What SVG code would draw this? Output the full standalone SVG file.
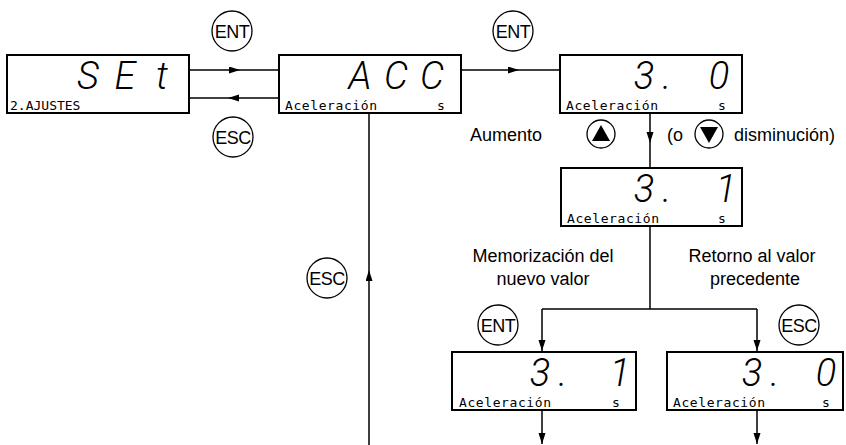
<svg xmlns="http://www.w3.org/2000/svg" width="846" height="445" viewBox="0 0 846 445">
<style>
.box{fill:#fff;stroke:#000;stroke-width:2}
.ln{fill:none;stroke:#000;stroke-width:1.5}
.btn{fill:#fff;stroke:#000;stroke-width:1.3}
.bt{font-family:"Liberation Sans",Arial,sans-serif;font-size:18px;letter-spacing:-0.5px;text-anchor:middle;fill:#000}
.lbl{font-family:"Liberation Sans",Arial,sans-serif;font-size:18px;fill:#000}
.seg{font-family:Roboto,"DejaVu Sans",sans-serif;font-style:italic;font-weight:300;font-size:38px;text-anchor:middle;fill:#000}
.sm{font-family:"DejaVu Sans Mono","Liberation Mono",monospace;font-size:13px;fill:#000}
</style>
<defs>
<marker id="ah" markerUnits="userSpaceOnUse" markerWidth="12" markerHeight="8" refX="11" refY="3.5" orient="auto">
<path d="M0,0 L11,3.5 L0,7 z" fill="#000"/>
</marker>
</defs>
<g id="connectors">
<path class="ln" d="M189,70 H240 H279" marker-mid="url(#ah)"/>
<path class="ln" d="M279,98 H228 H189" marker-mid="url(#ah)"/>
<path class="ln" d="M461,70 H519 H560" marker-mid="url(#ah)"/>
<path class="ln" d="M650,113 V143 V168" marker-mid="url(#ah)"/>
<path class="ln" d="M650,226 V309"/>
<path class="ln" d="M542,309 H757"/>
<path class="ln" d="M542,309 V351" marker-end="url(#ah)"/>
<path class="ln" d="M757,309 V351" marker-end="url(#ah)"/>
<path class="ln" d="M542,410 V444" marker-end="url(#ah)"/>
<path class="ln" d="M757,410 V444" marker-end="url(#ah)"/>
<path class="ln" d="M369,445 V270 V113" marker-mid="url(#ah)"/>
</g>
<g id="n-set">
<rect class="box" x="7" y="55" width="182" height="58"/>
<text class="seg" x="88" y="89">S</text>
<text class="seg" x="125" y="89">E</text>
<text class="seg" x="162" y="89">t</text>
<text class="sm" x="10" y="110">2.AJUSTES</text>
</g>
<g id="n-acc">
<rect class="box" x="279" y="55" width="182" height="58"/>
<text class="seg" x="360" y="89">A</text>
<text class="seg" x="396" y="89">C</text>
<text class="seg" x="432" y="89">C</text>
<text class="sm" x="285" y="110" textLength="92">Aceleración</text>
<text class="sm" x="437" y="110">s</text>
</g>
<g id="n-v30">
<rect class="box" x="560" y="55" width="182" height="58"/>
<text class="seg" x="644" y="89">3</text>
<text class="seg" x="667" y="89">.</text>
<text class="seg" x="719" y="89">0</text>
<text class="sm" x="566" y="110" textLength="92">Aceleración</text>
<text class="sm" x="718" y="110">s</text>
</g>
<g id="n-v31">
<rect class="box" x="561" y="168" width="181" height="58"/>
<text class="seg" x="644" y="202">3</text>
<text class="seg" x="667" y="202">.</text>
<text class="seg" x="726" y="202">1</text>
<text class="sm" x="567" y="223" textLength="92">Aceleración</text>
<text class="sm" x="718" y="223">s</text>
</g>
<g id="n-save">
<rect class="box" x="452" y="352" width="184" height="58"/>
<text class="seg" x="540" y="386">3</text>
<text class="seg" x="563" y="386">.</text>
<text class="seg" x="620" y="386">1</text>
<text class="sm" x="459" y="407" textLength="92">Aceleración</text>
<text class="sm" x="612" y="407">s</text>
</g>
<g id="n-back">
<rect class="box" x="667" y="352" width="176" height="58"/>
<text class="seg" x="752" y="386">3</text>
<text class="seg" x="775" y="386">.</text>
<text class="seg" x="826" y="386">0</text>
<text class="sm" x="673" y="407" textLength="92">Aceleración</text>
<text class="sm" x="822" y="407">s</text>
</g>
<g id="b-ent1"><circle class="btn" cx="232" cy="31" r="20"/><text class="bt" x="232" y="37.5">ENT</text></g>
<g id="b-esc1"><circle class="btn" cx="233" cy="137" r="20"/><text class="bt" x="233" y="143.5">ESC</text></g>
<g id="b-ent2"><circle class="btn" cx="513" cy="31" r="20"/><text class="bt" x="513" y="37.5">ENT</text></g>
<g id="b-esc2"><circle class="btn" cx="327" cy="278" r="20"/><text class="bt" x="327" y="284.5">ESC</text></g>
<g id="b-ent3"><circle class="btn" cx="498" cy="325" r="20"/><text class="bt" x="498" y="331.5">ENT</text></g>
<g id="b-esc3"><circle class="btn" cx="799" cy="325" r="20"/><text class="bt" x="799" y="331.5">ESC</text></g>
<g id="b-up"><circle class="btn" cx="601" cy="134" r="14" stroke-width="1.8"/><path d="M601,125 L592,141 L610,141 z" fill="#000"/></g>
<g id="b-down"><circle class="btn" cx="709" cy="134" r="14" stroke-width="1.8"/><path d="M700,127 L718,127 L709,143 z" fill="#000"/></g>
<g id="labels">
<text class="lbl" x="470" y="141">Aumento</text>
<text class="lbl" x="667" y="141">(o</text>
<text class="lbl" x="734" y="141">disminución)</text>
<text class="lbl" x="543" y="262" text-anchor="middle">Memorización del</text>
<text class="lbl" x="543" y="285" text-anchor="middle">nuevo valor</text>
<text class="lbl" x="752" y="262" text-anchor="middle">Retorno al valor</text>
<text class="lbl" x="755" y="285" text-anchor="middle">precedente</text>
</g>
</svg>
